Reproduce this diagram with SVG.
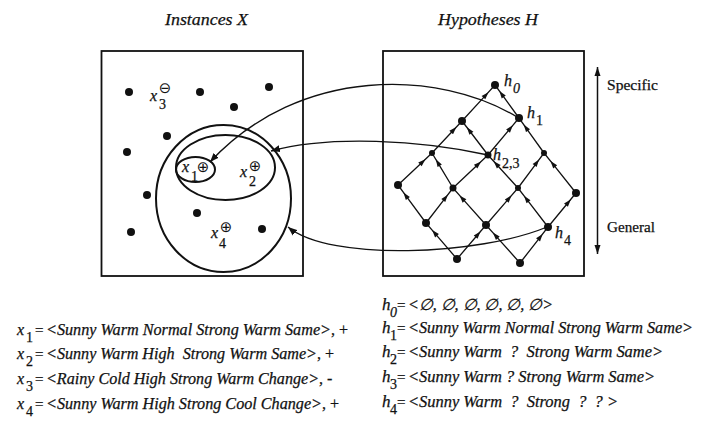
<svg xmlns="http://www.w3.org/2000/svg" width="720" height="433" viewBox="0 0 720 433" font-family="'Liberation Serif', 'Times New Roman', serif">
<defs>
<style>
.box{fill:none;stroke:#111;stroke-width:1.8}
.ell{fill:none;stroke:#111;stroke-width:2}
.dot{fill:#111}
.edge{fill:none;stroke:#111;stroke-width:1.3;marker-mid:url(#ah)}
.conn{fill:none;stroke:#111;stroke-width:1.3;marker-end:url(#ca)}
.t{font-family:'Liberation Serif','Times New Roman',serif;fill:#111;stroke:#111;stroke-width:0.25}
.it{font-style:italic}
.sym{font-family:'DejaVu Sans',sans-serif;fill:#111;font-size:15px}
.ln{font-size:16px}
.eq{font-size:15px}
.pre{white-space:pre}
</style>
<marker id="ah" viewBox="-4 -3 8 6" refX="0" refY="0" markerWidth="8" markerHeight="6" markerUnits="userSpaceOnUse" orient="auto"><path d="M-3.5,-2.5 L4,0 L-3.5,2.5 z" fill="#111"/></marker>
<marker id="ca" viewBox="-9 -4 10 8" refX="0" refY="0" markerWidth="10" markerHeight="8" markerUnits="userSpaceOnUse" orient="auto"><path d="M-9,-3.5 L0,0 L-9,3.5 z" fill="#111"/></marker>
<marker id="va" viewBox="-9 -4 10 8" refX="0" refY="0" markerWidth="10" markerHeight="8" markerUnits="userSpaceOnUse" orient="auto-start-reverse"><path d="M-9,-3 L0,0 L-9,3 z" fill="#111"/></marker>
</defs>
<rect width="720" height="433" fill="#fff"/>

<text class="t it" x="165" y="25" font-size="17.5" textLength="83" lengthAdjust="spacingAndGlyphs">Instances X</text>
<text class="t it" x="438" y="25" font-size="17.5" textLength="100" lengthAdjust="spacingAndGlyphs">Hypotheses H</text>

<g id="instances">
<rect class="box" x="101.5" y="51" width="201.5" height="225"/>
<circle class="dot" cx="129" cy="92" r="4"/>
<circle class="dot" cx="200" cy="92" r="4"/>
<circle class="dot" cx="269" cy="87" r="4"/>
<circle class="dot" cx="234" cy="107" r="4"/>
<circle class="dot" cx="167" cy="136" r="4"/>
<circle class="dot" cx="127" cy="152" r="4"/>
<circle class="dot" cx="147" cy="195" r="4"/>
<circle class="dot" cx="197" cy="213" r="4"/>
<circle class="dot" cx="131" cy="232" r="4"/>
<circle class="dot" cx="262" cy="229" r="4"/>
<ellipse class="ell" cx="223.5" cy="198.5" rx="67.5" ry="73.5"/>
<ellipse class="ell" cx="225.5" cy="167.5" rx="49.5" ry="32.5"/>
<ellipse class="ell" cx="195.5" cy="169.5" rx="19.5" ry="12.5"/>
</g>
<g id="x3"><text class="t it" x="150" y="101" font-size="16">x</text><text class="t" x="159" y="109" font-size="14">3</text><text class="sym" x="165" y="92.5" text-anchor="middle">⊖</text></g>
<g id="x1"><text class="t it" x="182" y="172" font-size="16">x</text><text class="t" x="191" y="181" font-size="14">1</text><text class="sym" x="203" y="172" text-anchor="middle">⊕</text></g>
<g id="x2"><text class="t it" x="240" y="177" font-size="16">x</text><text class="t" x="249" y="186" font-size="14">2</text><text class="sym" x="255" y="171" text-anchor="middle">⊕</text></g>
<g id="x4"><text class="t it" x="211" y="238" font-size="16">x</text><text class="t" x="219" y="248" font-size="14">4</text><text class="sym" x="226" y="232" text-anchor="middle">⊕</text></g>

<g id="hypotheses">
<rect class="box" x="383" y="51" width="201" height="225"/>
</g>
<g id="lattice-edges">
<path class="edge" d="M462,121 L485.8,95.1 L495,85"/>
<path class="edge" d="M519,118 L501.7,94.2 L495,85"/>
<path class="edge" d="M432,153 L453.6,130 L462,121"/>
<path class="edge" d="M488,155 L469.3,130.5 L462,121"/>
<path class="edge" d="M488,155 L510.3,128.4 L519,118"/>
<path class="edge" d="M544,153 L526,127.8 L519,118"/>
<path class="edge" d="M398,185 L422.5,162 L432,153"/>
<path class="edge" d="M453,188 L437.9,162.8 L432,153"/>
<path class="edge" d="M453,188 L478.2,164.2 L488,155"/>
<path class="edge" d="M518,188 L496.4,164.2 L488,155"/>
<path class="edge" d="M518,188 L536.7,162.8 L544,153"/>
<path class="edge" d="M576,193 L553,164.2 L544,153"/>
<path class="edge" d="M426,223 L405.8,195.6 L398,185"/>
<path class="edge" d="M426,223 L445.4,197.8 L453,188"/>
<path class="edge" d="M486,225 L462.2,198.4 L453,188"/>
<path class="edge" d="M486,225 L509,198.4 L518,188"/>
<path class="edge" d="M548,227 L526.4,198.9 L518,188"/>
<path class="edge" d="M548,227 L568.2,202.5 L576,193"/>
<path class="edge" d="M457,259 L434.7,233.1 L426,223"/>
<path class="edge" d="M457,259 L477.9,234.5 L486,225"/>
<path class="edge" d="M520,263 L495.5,235.6 L486,225"/>
<path class="edge" d="M520,263 L540.2,237.1 L548,227"/>
</g>
<g id="h0"><circle class="dot" cx="495" cy="85" r="4"/><text class="t it" x="504" y="86" font-size="16">h</text><text class="t it" x="513" y="93" font-size="14">0</text></g>
<g id="h1"><circle class="dot" cx="519" cy="118" r="4"/><text class="t it" x="527" y="118" font-size="16">h</text><text class="t" x="536" y="125" font-size="14">1</text></g>
<g id="h23"><circle class="dot" cx="488" cy="155" r="3.5"/><text class="t it" x="493" y="160" font-size="16">h</text><text class="t" x="502" y="168" font-size="14">2,3</text></g>
<g id="h4"><circle class="dot" cx="548" cy="227" r="4"/><text class="t it" x="555" y="238" font-size="16">h</text><text class="t" x="564" y="245" font-size="14">4</text></g>
<g id="lattice-nodes">
<circle class="dot" cx="462" cy="121" r="4"/>
<circle class="dot" cx="432" cy="153" r="3"/>
<circle class="dot" cx="544" cy="153" r="3"/>
<circle class="dot" cx="398" cy="185" r="4"/>
<circle class="dot" cx="453" cy="188" r="3.5"/>
<circle class="dot" cx="518" cy="188" r="3"/>
<circle class="dot" cx="576" cy="193" r="4"/>
<circle class="dot" cx="426" cy="223" r="4"/>
<circle class="dot" cx="486" cy="225" r="4"/>
<circle class="dot" cx="457" cy="259" r="4"/>
<circle class="dot" cx="520" cy="263" r="4"/>
</g>

<g id="connectors">
<path class="conn" d="M517,117 C440,70 300,65 210,162"/>
<path class="conn" d="M488,155 C420,140 330,135 271,151"/>
<path class="conn" d="M547,227 C480,255 330,262 288,227"/>
</g>

<g id="scale">
<line x1="597.5" y1="67" x2="597.5" y2="254" stroke="#111" stroke-width="1.5" marker-start="url(#va)" marker-end="url(#va)"/>
<text class="t" x="607" y="90" font-size="15" textLength="51" lengthAdjust="spacingAndGlyphs">Specific</text>
<text class="t" x="607" y="232" font-size="15" textLength="48" lengthAdjust="spacingAndGlyphs">General</text>
</g>

<g id="instance-list">
<text class="t it" x="17" y="335" font-size="16">x</text><text class="t" x="26" y="342" font-size="14">1</text>
<text class="t eq" x="35" y="335">=</text>
<text class="t it ln" x="46" y="335" textLength="285" lengthAdjust="spacingAndGlyphs">&lt;Sunny Warm Normal Strong Warm Same&gt;</text>
<text class="t ln" x="331" y="335">, +</text>

<text class="t it" x="17" y="359" font-size="16">x</text><text class="t" x="26" y="366" font-size="14">2</text>
<text class="t eq" x="35" y="359">=</text>
<text class="t it ln pre" x="46" y="359" textLength="271" lengthAdjust="spacingAndGlyphs">&lt;Sunny Warm High  Strong Warm Same&gt;</text>
<text class="t ln" x="317" y="359">, +</text>

<text class="t it" x="17" y="384" font-size="16">x</text><text class="t" x="26" y="391" font-size="14">3</text>
<text class="t eq" x="35" y="384">=</text>
<text class="t it ln" x="46" y="384" textLength="273" lengthAdjust="spacingAndGlyphs">&lt;Rainy Cold High Strong Warm Change&gt;</text>
<text class="t ln" x="319" y="384">, -</text>

<text class="t it" x="17" y="409" font-size="16">x</text><text class="t" x="26" y="416" font-size="14">4</text>
<text class="t eq" x="35" y="409">=</text>
<text class="t it ln" x="46" y="409" textLength="276" lengthAdjust="spacingAndGlyphs">&lt;Sunny Warm High Strong Cool Change&gt;</text>
<text class="t ln" x="322" y="409">, +</text>
</g>

<g id="hypothesis-list">
<text class="t it" x="382" y="310" font-size="17">h</text><text class="t it" x="390" y="317" font-size="14">0</text>
<text class="t eq" x="397" y="310">=</text>
<text class="t it ln" x="408" y="310" textLength="145" lengthAdjust="spacingAndGlyphs">&lt;∅, ∅, ∅, ∅, ∅, ∅&gt;</text>

<text class="t it" x="382" y="333" font-size="17">h</text><text class="t" x="390" y="340" font-size="14">1</text>
<text class="t eq" x="397" y="333">=</text>
<text class="t it ln" x="408" y="333" textLength="285" lengthAdjust="spacingAndGlyphs">&lt;Sunny Warm Normal Strong Warm Same&gt;</text>

<text class="t it" x="382" y="357" font-size="17">h</text><text class="t" x="390" y="364" font-size="14">2</text>
<text class="t eq" x="397" y="357">=</text>
<text class="t it ln pre" x="408" y="357" textLength="255" lengthAdjust="spacingAndGlyphs">&lt;Sunny Warm  ?  Strong Warm Same&gt;</text>

<text class="t it" x="382" y="382" font-size="17">h</text><text class="t" x="390" y="389" font-size="14">3</text>
<text class="t eq" x="397" y="382">=</text>
<text class="t it ln" x="408" y="382" textLength="247" lengthAdjust="spacingAndGlyphs">&lt;Sunny Warm ? Strong Warm Same&gt;</text>

<text class="t it" x="382" y="407" font-size="17">h</text><text class="t" x="390" y="414" font-size="14">4</text>
<text class="t eq" x="397" y="407">=</text>
<text class="t it ln pre" x="408" y="407" textLength="210" lengthAdjust="spacingAndGlyphs">&lt;Sunny Warm  ?  Strong  ?  ? &gt;</text>
</g>
</svg>
